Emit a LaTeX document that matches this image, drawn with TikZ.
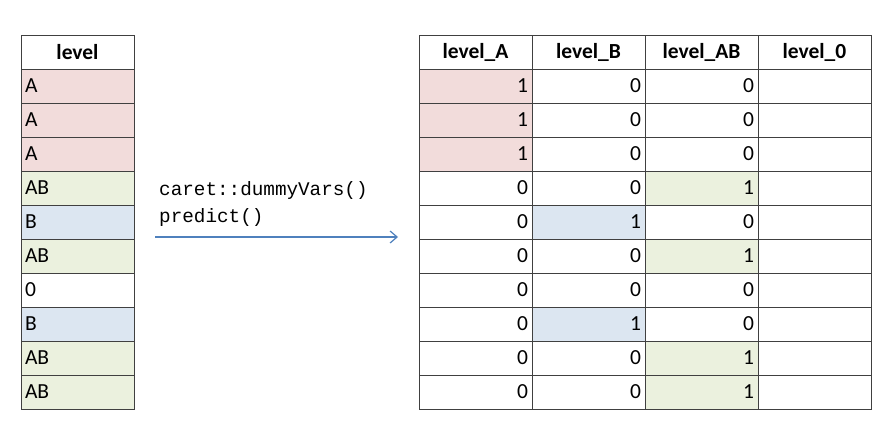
\documentclass[tikz,border=0pt]{standalone}
\usepackage{fontspec}
\usetikzlibrary{arrows.meta}
\setmainfont{Carlito}
\setmonofont{Liberation Mono}
\definecolor{cr}{HTML}{F2DCDB}
\definecolor{cg}{HTML}{EBF1DE}
\definecolor{cb}{HTML}{DCE6F1}
\definecolor{arr}{HTML}{4F81BD}
\begin{document}
\begin{tikzpicture}[x=1pt,y=-1pt,
  cellbox/.style={draw=black!75,line width=0.8pt,minimum width=113pt,minimum height=34pt,inner sep=4pt,font=\fontsize{21.5}{23}\selectfont},
  hdr/.style={cellbox,font=\fontsize{21.5}{23}\selectfont\bfseries},
  lcell/.style={cellbox,text width=105pt,align=left},
  rcell/.style={cellbox,text width=105pt,align=right}]
\useasboundingbox (0,0) rectangle (893,443);
\node[hdr] (L0) at (77.5,52) {level};
\foreach \v/\c [count=\i] in {A/cr,A/cr,A/cr,AB/cg,B/cb,AB/cg,0/white,B/cb,AB/cg,AB/cg}{
  \node[lcell,fill=\c] (L\i) at (77.5,52+34*\i) {\v};
}
\foreach \h [count=\j] in {level\_A,level\_B,level\_AB,level\_0}{
  \node[hdr] (H\j) at (475.5+113*\j-113,52) {\h};
}
\foreach \a/\b/\d/\fa [count=\i] in {1/0/0/cr,1/0/0/cr,1/0/0/cr,0/0/1/white,0/1/0/white,0/0/1/white,0/0/0/white,0/1/0/white,0/0/1/white,0/0/1/white}{
  \node[rcell,fill=\fa] (A\i) at (475.5,52+34*\i) {\a};
  \node[rcell,fill=white] (B\i) at (588.5,52+34*\i) {\b};
  \node[rcell,fill=white] (C\i) at (701.5,52+34*\i) {\d};
  \node[rcell,fill=white] (D\i) at (814.5,52+34*\i) {};
}
\foreach \i in {5,8}{\node[rcell,fill=cb] at (B\i) {1};}
\foreach \i in {4,6,9,10}{\node[rcell,fill=cg] at (C\i) {1};}
\coordinate (s) at (155,237);
\coordinate (e) at (398,237);
\draw[arr,line width=1.2pt,-{Straight Barb[length=7pt,width=12pt]}] (s) -- (e);
\node[anchor=west,inner sep=0pt,font=\ttfamily\fontsize{19.3}{21}\selectfont] (t1) at (159,191) {caret::dummyVars()};
\node[anchor=west,inner sep=0pt,font=\ttfamily\fontsize{19.3}{21}\selectfont] (t2) at (159,218) {predict()};
\end{tikzpicture}
\end{document}
